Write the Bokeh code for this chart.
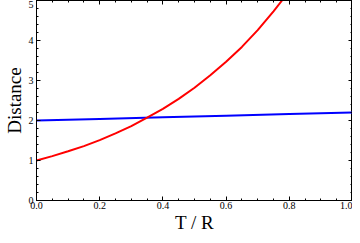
from bokeh.plotting import figure
from bokeh.models import Range1d, FixedTicker, PrintfTickFormatter, LinearAxis, CustomJSTickFormatter
from bokeh.embed import file_html
from bokeh.resources import INLINE

# data
red_x = [0.0, 0.05, 0.1, 0.15, 0.2, 0.25, 0.3, 0.35, 0.4, 0.45, 0.5, 0.55, 0.6, 0.65, 0.7, 0.75, 0.777]
red_y = [1.00, 1.11, 1.23, 1.36, 1.51, 1.68, 1.86, 2.07, 2.29, 2.54, 2.82, 3.13, 3.47, 3.84, 4.26, 4.73, 5.00]
blue_x = [0.0, 0.2, 0.4, 0.6, 0.8, 1.0]
blue_y = [2.00, 2.04, 2.08, 2.12, 2.16, 2.20]
x_ticks = [0.0, 0.2, 0.4, 0.6, 0.8, 1.0]
x_minor = [i * 0.05 for i in range(21)]
y_ticks = [0, 1, 2, 3, 4, 5]
y_minor = [i * 0.2 for i in range(26)]

FONT = "Liberation Serif"

p = figure(width=352, height=235, output_backend="svg", toolbar_location=None,
           x_range=Range1d(0, 1), y_range=Range1d(0, 5),
           min_border_left=0, min_border_right=0, min_border_top=0, min_border_bottom=0)
p.grid.visible = False
p.outline_line_color = "black"
p.outline_line_width = 1

p.line(blue_x, blue_y, color="#0000ff", line_width=2)
p.line(red_x, red_y, color="#ff0000", line_width=2)

def style(ax, ticks, minor, labels=True):
    ax.ticker = FixedTicker(ticks=ticks, minor_ticks=minor)
    ax.major_tick_in = 4
    ax.major_tick_out = 0
    ax.minor_tick_in = 2
    ax.minor_tick_out = 0
    ax.axis_line_color = "black"
    ax.major_tick_line_color = "black"
    ax.minor_tick_line_color = "black"
    ax.major_label_text_font = FONT
    ax.major_label_text_font_size = "10px"
    ax.major_label_text_color = "black"
    ax.axis_label_text_font = FONT
    ax.axis_label_text_font_size = "19px"
    ax.axis_label_text_font_style = "normal"
    ax.axis_label_text_color = "black"
    ax.major_label_standoff = 2
    if not labels:
        ax.formatter = CustomJSTickFormatter(code="return ''")
        ax.major_label_standoff = 0
        ax.major_label_text_font_size = "1px"

xa = p.xaxis[0]
style(xa, x_ticks, x_minor)
xa.formatter = PrintfTickFormatter(format="%.1f")
xa.axis_label = "T / R"
xa.axis_label_standoff = 0
xa.major_label_standoff = 1

ya = p.yaxis[0]
style(ya, y_ticks, y_minor)
ya.major_label_standoff = 3
ya.axis_label = "Distance"
ya.axis_label_standoff = 1

top = LinearAxis()
style(top, x_ticks, x_minor, labels=False)
p.add_layout(top, "above")
right = LinearAxis()
style(right, y_ticks, y_minor, labels=False)
p.add_layout(right, "right")

open("out.html", "w").write(file_html(p, INLINE))
